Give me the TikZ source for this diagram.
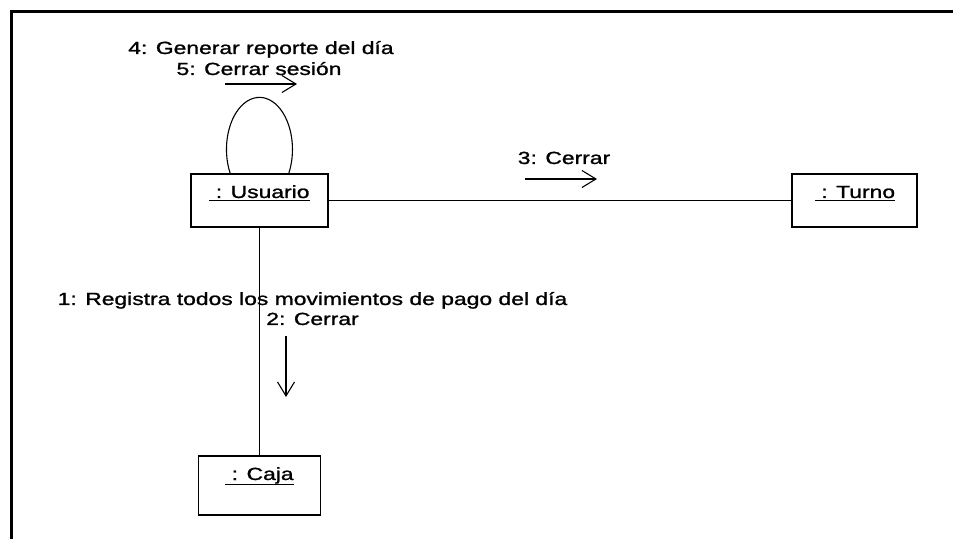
\documentclass[tikz,border=0pt]{standalone}
\usepackage{fontspec}
\setmainfont[FakeStretch=1.3,FakeBold=1.2]{Liberation Sans}
\usetikzlibrary{arrows.meta}
\begin{document}
\begin{tikzpicture}[x=1bp,y=-1bp,
  font=\fontsize{17.6bp}{21bp}\selectfont,
  obj/.style={draw, line width=1.2bp, inner sep=0pt},
  lbl/.style={inner sep=0pt, anchor=base},
  conn/.style={line width=1.1bp},
  msg/.style={line width=1.1bp, -{Straight Barb[length=14bp,width=17bp,line width=1.1bp]}},
  uline/.style={line width=1bp}]
\useasboundingbox (0,0) rectangle (953,539);
% frame
\draw[line width=2.5bp] (11.5,539) -- (11.5,11.5) -- (953,11.5);
% objects
\node[obj, minimum width=137bp, minimum height=53bp] (usr) at (259.5,200.5) {};
\node[obj, minimum width=125bp, minimum height=53bp] (tur) at (854.5,200.5) {};
\node[obj, minimum width=122bp, minimum height=59bp] (caj) at (259.5,485.5) {};
% object names
\node[lbl] (usrt) at (259.5,198) {~: Usuario};
\node[lbl] (turt) at (855,198) {~: Turno};
\node[lbl] (cajt) at (259.5,480) {~: Caja};
\draw[uline] ([yshift=-2.5bp]usrt.base west) -- ([yshift=-2.5bp]usrt.base east);
\draw[uline] ([yshift=-2.5bp]turt.base west) -- ([yshift=-2.5bp]turt.base east);
\draw[uline] ([yshift=-4.5bp]cajt.base west) -- ([yshift=-4.5bp]cajt.base east);
% links
\draw[conn] (usr) -- (tur);
\draw[conn] (usr) -- (caj);
\draw[conn] ([xshift=-29.3bp]usr.north) arc[start angle=207.5, end angle=-27.5, x radius=33bp, y radius=52bp];
% messages
\coordinate (m4a) at (225,84);
\coordinate (m4b) at (297,84);
\draw[msg] (m4a) -- (m4b);
\node[lbl] (m4) at (261,54) {4: Generar reporte del día};
\node[lbl] (m5) at (259,75) {5: Cerrar sesión};
\coordinate (m3a) at (525,179);
\coordinate (m3b) at (597,179);
\draw[msg] (m3a) -- (m3b);
\node[lbl] (m3) at (564,164) {3: Cerrar};
\coordinate (m2a) at (286,336);
\coordinate (m2b) at (286,397);
\draw[msg] (m2a) -- (m2b);
\node[lbl] (m1) at (312.5,305) {1: Registra todos los movimientos de pago del día};
\node[lbl] (m2) at (312.5,325) {2: Cerrar};
\end{tikzpicture}
\end{document}
